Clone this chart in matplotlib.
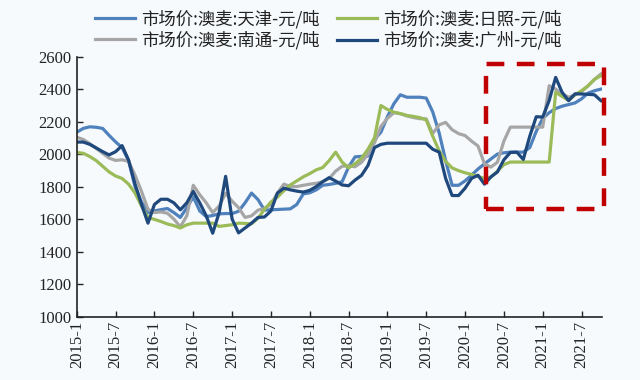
import numpy as np
import matplotlib
matplotlib.use("Agg")
import matplotlib.pyplot as plt
from matplotlib.patches import Rectangle

plt.rcParams['font.family'] = ['Liberation Serif', 'Noto Sans CJK SC', 'DejaVu Sans']

# monthly prices, 2015-1 .. 2021-10 (yuan/ton)
months = [f"{2015 + i // 12}-{i % 12 + 1}" for i in range(82)]

tianjin = [2135, 2158, 2168, 2165, 2158, 2115, 2075, 2040, 1960, 1800,
           1705, 1640, 1650, 1658, 1665, 1640, 1610, 1670, 1736, 1650,
           1615, 1622, 1632, 1634, 1634, 1648, 1700, 1760, 1720, 1655,
           1657, 1659, 1661, 1663, 1690, 1755, 1762, 1780, 1808, 1813,
           1820, 1830, 1920, 1983, 1986, 1988, 2090, 2135, 2230, 2310,
           2365, 2350, 2350, 2350, 2345, 2260, 2130, 1960, 1808, 1808,
           1835, 1870, 1908, 1940, 1970, 2000, 2008, 2012, 2012, 2012,
           2040, 2140, 2220, 2255, 2280, 2295, 2305, 2315, 2340, 2375,
           2390, 2400]

rizhao = [2010, 2005, 1985, 1960, 1925, 1890, 1865, 1850, 1815, 1760,
          1680, 1610, 1598, 1585, 1570, 1560, 1545, 1565, 1575, 1575,
          1575, 1575, 1555, 1560, 1565, 1575, 1573, 1571, 1605, 1660,
          1705, 1735, 1775, 1810, 1835, 1860, 1880, 1903, 1917, 1960,
          2012, 1951, 1915, 1940, 1975, 2030, 2100, 2299, 2275, 2258,
          2250, 2238, 2232, 2225, 2210, 2110, 2020, 1955, 1915, 1898,
          1885, 1875, 1862, 1850, 1858, 1895, 1935, 1951, 1951, 1951,
          1951, 1951, 1951, 1951, 2380, 2355, 2330, 2365, 2390, 2420,
          2460, 2483]

nantong = [2104, 2090, 2064, 2035, 2005, 1975, 1961, 1965, 1955, 1870,
           1770, 1660, 1640, 1644, 1636, 1600, 1552, 1620, 1808, 1750,
           1700, 1640, 1680, 1759, 1710, 1670, 1610, 1620, 1655, 1665,
           1690, 1760, 1815, 1800, 1800, 1808, 1815, 1820, 1830, 1850,
           1895, 1925, 1928, 1922, 1950, 2000, 2070, 2170, 2220, 2255,
           2248, 2235, 2225, 2218, 2217, 2126, 2180, 2195, 2150, 2126,
           2114, 2080, 2050, 1940, 1920, 1950, 2080, 2166, 2166, 2166,
           2166, 2166, 2166, 2421, 2400, 2370, 2350, 2365, 2385, 2420,
           2460, 2493]

guangzhou = [2074, 2074, 2060, 2038, 2015, 1995, 2015, 2052, 1963, 1815,
             1690, 1575, 1690, 1722, 1722, 1700, 1657, 1700, 1770, 1700,
             1620, 1513, 1640, 1863, 1600, 1515, 1545, 1575, 1610, 1613,
             1650, 1760, 1790, 1780, 1772, 1766, 1777, 1800, 1830, 1855,
             1834, 1810, 1805, 1840, 1869, 1930, 2040, 2060, 2067, 2067,
             2067, 2067, 2067, 2067, 2067, 2030, 2012, 1850, 1745, 1745,
             1790, 1850, 1870, 1815, 1860, 1890, 1965, 2010, 2012, 1967,
             2110, 2230, 2228, 2330, 2472, 2380, 2329, 2371, 2370, 2368,
             2365, 2329]

series = [
    ("市场价:澳麦:天津-元/吨", tianjin, "#4f81bd"),
    ("市场价:澳麦:南通-元/吨", nantong, "#a6a6a6"),
    ("市场价:澳麦:日照-元/吨", rizhao, "#9bbb59"),
    ("市场价:澳麦:广州-元/吨", guangzhou, "#1f497d"),
]

bg = "#f7fafd"
fig = plt.figure(figsize=(6.4, 3.8), dpi=100, facecolor=bg)
ax = fig.add_axes([0.120, 0.167, 0.821, 0.684])
ax.set_facecolor(bg)

x = np.arange(len(months))
for label, vals, color in series:
    ax.plot(x, vals, color=color, lw=2.3, label=label)

ax.set_xlim(0, 81.2)
ax.set_ylim(1000, 2600)
ax.set_yticks(range(1000, 2601, 200))
ticks = np.arange(0, 79, 6)
ax.set_xticks(ticks)
ax.set_xticklabels([months[i] for i in ticks], rotation=90)
ax.tick_params(direction='in', length=4, width=1, labelsize=12, colors='#222222')
ax.tick_params(axis='x', pad=3)
ax.tick_params(axis='y', pad=4)
for side in ['top', 'right']:
    ax.spines[side].set_visible(False)
for side in ['left', 'bottom']:
    ax.spines[side].set_linewidth(1.2)
    ax.spines[side].set_color('#222222')

# highlight box over the recent period
box = Rectangle((63.3, 1660), 18.2, 895, fill=False, edgecolor='#c00000',
                lw=3.2, ls=(0, (4, 2.8)), clip_on=False, zorder=5)
ax.add_patch(box)

handles, labels = ax.get_legend_handles_labels()
leg = fig.legend(handles, labels, ncol=2, loc='upper center',
                 bbox_to_anchor=(0.513, 1.015), frameon=False,
                 prop={'family': ['Noto Sans CJK SC', 'DejaVu Sans'], 'size': 12.5},
                 handlelength=2.3, handletextpad=0.35, columnspacing=1.0,
                 labelspacing=0.15)
for t in leg.get_texts():
    t.set_color('#222222')

fig.savefig("out.png", dpi=100, facecolor=bg)
